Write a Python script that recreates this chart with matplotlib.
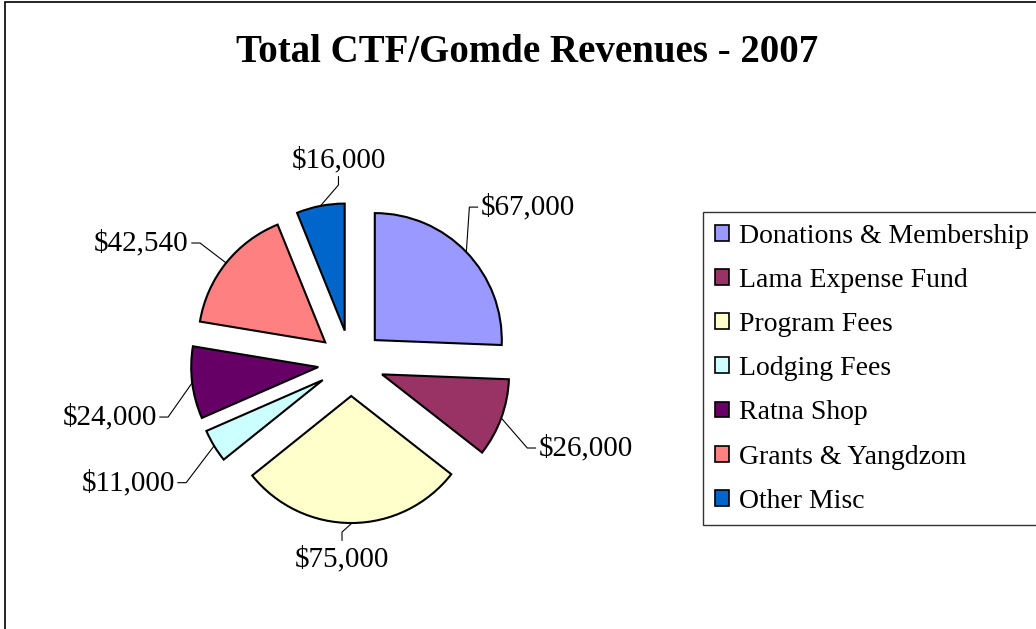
import numpy as np
import matplotlib.pyplot as plt
from matplotlib.patches import Patch, Rectangle

plt.rcParams['font.family'] = ['Liberation Serif', 'DejaVu Serif']

categories = ["Donations & Membership", "Lama Expense Fund", "Program Fees", "Lodging Fees",
              "Ratna Shop", "Grants & Yangdzom", "Other Misc"]
values = [67000, 26000, 75000, 11000, 24000, 42540, 16000]
colors = ["#9999FF", "#993366", "#FFFFCC", "#CCFFFF", "#660066", "#FF8080", "#0066CC"]

# label layout: elbow offset from arc point (data units) and direction of the short stub
label_offsets = [(0.024, 0.354), (0.205, -0.236), (-0.079, -0.071), (-0.22, -0.29),
                 (-0.19, -0.27), (-0.205, 0.157), (0.142, 0.165)]
label_dirs = ["right", "right", "down", "left", "left", "left", "up"]

W, H = 1036, 629
fig = plt.figure(figsize=(W / 100, H / 100), dpi=100)

# chart border (right and bottom edges run off the image)
fig.patches.append(Rectangle((5 / W, -0.1), 1.2, 1 - 2 / H + 0.1, transform=fig.transFigure,
                             fill=False, edgecolor="black", linewidth=1.2))

fig.text(527 / W, 1 - 53 / H, "Total CTF/Gomde Revenues - 2007", ha="center", va="center",
         fontsize=28, fontweight="bold")

# pie axes: 127 px per data unit, centre at (351, 363) px
cx, cy, scale = 351, 363, 127
xr, yr = 2.5, 1.8
ax = fig.add_axes([(cx - xr * scale) / W, (H - cy - yr * scale) / H,
                   2 * xr * scale / W, 2 * yr * scale / H])
ax.axis("off")

explode = 0.26
wedges, _ = ax.pie(values, colors=colors, startangle=90, counterclock=False,
                   explode=[explode] * len(values), radius=1,
                   wedgeprops=dict(edgecolor="black", linewidth=1.5))
ax.set_xlim(-xr, xr)
ax.set_ylim(-yr, yr)

stub = 0.065
gap = 0.025
dir_vec = {"right": (1, 0), "left": (-1, 0), "down": (0, -1), "up": (0, 1)}
align = {"right": ("left", "center"), "left": ("right", "center"),
         "down": ("center", "top"), "up": ("center", "bottom")}
for w, v, off, d in zip(wedges, values, label_offsets, label_dirs):
    mid = np.deg2rad((w.theta1 + w.theta2) / 2)
    ax_pt = np.array([np.cos(mid), np.sin(mid)]) * (1 + explode)
    elbow = ax_pt + np.array(off)
    dv = np.array(dir_vec[d])
    end = elbow + dv * stub
    ax.plot([ax_pt[0], elbow[0], end[0]], [ax_pt[1], elbow[1], end[1]],
            color="black", linewidth=0.8)
    tp = end + dv * gap
    ha, va = align[d]
    if d == "down":
        tp = tp + np.array([0, -0.02])
    ax.text(tp[0], tp[1], f"${v:,}", ha=ha, va=va, fontsize=21)

handles = [Patch(facecolor=c, edgecolor="black", linewidth=1.2) for c in colors]
leg = fig.legend(handles, categories, loc="upper left", bbox_to_anchor=(703 / W, 1 - 212 / H),
                 frameon=True, fancybox=False, fontsize=20, handlelength=0.5, handleheight=0.5,
                 handletextpad=0.36, labelspacing=0.69, borderpad=0.42, borderaxespad=0)
leg.get_frame().set_edgecolor("black")
leg.get_frame().set_linewidth(1.0)

fig.savefig("out.png", dpi=100)
